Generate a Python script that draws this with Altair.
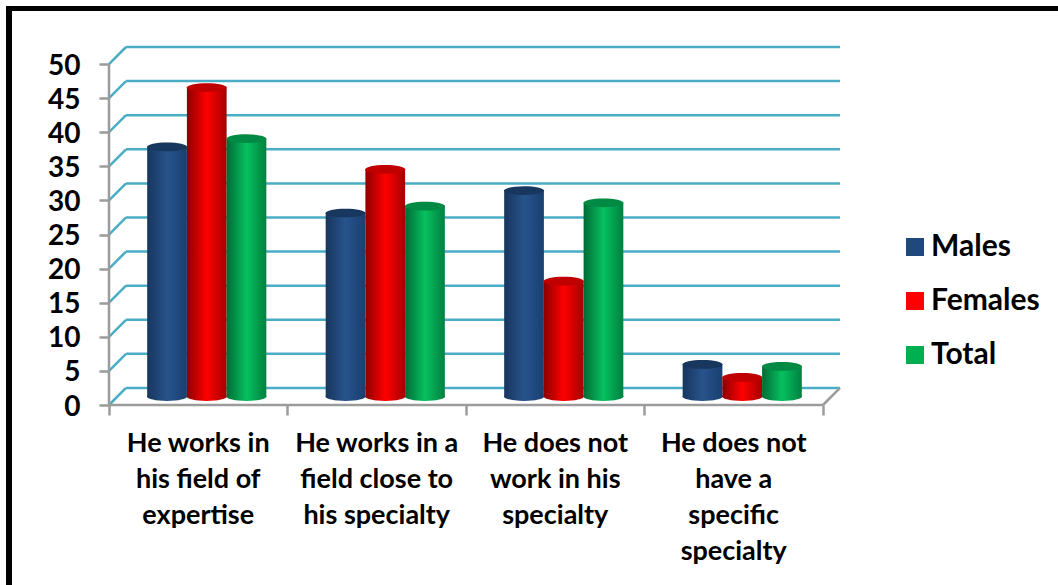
import altair as alt
import pandas as pd

categories = [
    "He works in\nhis field of\nexpertise",
    "He works in a\nfield close to\nhis specialty",
    "He does not\nwork in his\nspecialty",
    "He does not\nhave a\nspecific\nspecialty",
]
series = ["Males", "Females", "Total"]
males = [36.6, 26.9, 30.2, 4.7]
females = [45.3, 33.3, 16.9, 2.8]
total = [37.8, 27.9, 28.4, 4.4]
ticks = list(range(0, 55, 5))

FONT = "Lato"
GRID = "#4bacc6"
AXIS = "#9b9b9b"
INK = "#000000"

# Pseudo-3D geometry, in data units of the two scales
DEPTH_X = 0.0954
DEPTH_Y = 2.5
BAR_W = 0.2225
X_MAX = 4 + DEPTH_X
Y_MAX = 50 + DEPTH_Y

x_scale = alt.Scale(domain=[0, X_MAX], nice=False, zero=False)
y_scale = alt.Scale(domain=[0, Y_MAX], nice=False, zero=False)

# Both axes are shared by every layer; their domain lines would run over the depth,
# so separate rules draw those
x_axis = alt.Axis(
    values=[0, 1, 2, 3, 4], labels=False, title=None, grid=False, domain=False,
    ticks=True, tickColor=AXIS, tickWidth=2.5, tickSize=10,
)
y_axis = alt.Axis(
    values=ticks, title=None, grid=False, domain=False, tickColor=AXIS,
    tickWidth=2.5, tickSize=10, labelFont=FONT, labelFontSize=28,
    labelFontWeight="bold", labelColor=INK, labelPadding=19, labelOffset=2,
)


def xq(field):
    return alt.X(field, scale=x_scale, axis=x_axis, title=None)


def yq(field):
    return alt.Y(field, scale=y_scale, axis=y_axis, title=None)


edge_dark = ["#17365d", "#8c0000", "#006b35"]
centre = ["#27538c", "#ff0000", "#07c05f"]
edge_right = ["#1a3f70", "#a50000", "#008040"]
cap = ["#17375e", "#c00000", "#008a44"]
legend_colors = ["#1f497d", "#ff0000", "#00b050"]

rows = []
for s_i, (name, vals) in enumerate(zip(series, [males, females, total])):
    for c_i, v in enumerate(vals):
        cx = c_i + 0.5 + DEPTH_X / 2 + (s_i - 1) * BAR_W
        rows.append({
            "series": name, "value": v, "cx": cx,
            "x0": cx - BAR_W / 2, "x1": cx + BAR_W / 2,
            "base": DEPTH_Y / 2, "top": v + DEPTH_Y / 2,
        })
bars = pd.DataFrame(rows)

ticks_df = pd.DataFrame({"v": ticks, "back": [t + DEPTH_Y for t in ticks],
                         "xd": DEPTH_X, "xe": X_MAX})
diag = pd.concat([
    pd.DataFrame({"v": ticks, "px": 0.0, "py": ticks}),
    pd.DataFrame({"v": ticks, "px": DEPTH_X, "py": [t + DEPTH_Y for t in ticks]}),
])

back_grid = alt.Chart(ticks_df).mark_rule(color=GRID, strokeWidth=2.5).encode(
    x=xq("xd:Q"), x2="xe:Q", y=yq("back:Q"),
)
side_grid = alt.Chart(diag).mark_line(color=GRID, strokeWidth=2.5).encode(
    x=xq("px:Q"), y=yq("py:Q"), detail="v:N",
)

# Floor edge on the right
floor_edge = alt.Chart(pd.DataFrame({
    "px": [4.0, X_MAX], "py": [0.0, DEPTH_Y],
})).mark_line(color=AXIS, strokeWidth=2.5).encode(x=xq("px:Q"), y=yq("py:Q"))

y_line = alt.Chart(pd.DataFrame({"a": [0], "b": [50], "x": [0]})).mark_rule(
    color=AXIS, strokeWidth=2.5
).encode(x=xq("x:Q"), y=yq("a:Q"), y2="b:Q")
x_line = alt.Chart(pd.DataFrame({"a": [0.0], "b": [4.0], "y": [0]})).mark_rule(
    color=AXIS, strokeWidth=2.5
).encode(x=xq("a:Q"), x2="b:Q", y=yq("y:Q"))

ELLIPSE = "M-1,0 A1,0.22 0 1,0 1,0 A1,0.22 0 1,0 -1,0 Z"
ELLIPSE_SIZE = 1600


def shaded(i):
    return alt.Gradient(
        gradient="linear", x1=0, x2=1, y1=0, y2=0,
        stops=[
            alt.GradientStop(offset=0, color=edge_dark[i]),
            alt.GradientStop(offset=0.5, color=centre[i]),
            alt.GradientStop(offset=1, color=edge_right[i]),
        ],
    )


cylinders = []
for i, name in enumerate(series):
    part = bars[bars["series"] == name]
    bottom = alt.Chart(part).mark_point(
        shape=ELLIPSE, size=ELLIPSE_SIZE, filled=True, opacity=1, fill=shaded(i), strokeWidth=0
    ).encode(x=xq("cx:Q"), y=yq("base:Q"))
    body = alt.Chart(part).mark_rect(fill=shaded(i)).encode(
        x=xq("x0:Q"), x2="x1:Q", y=yq("base:Q"), y2="top:Q",
    )
    lid = alt.Chart(part).mark_point(
        shape=ELLIPSE, size=ELLIPSE_SIZE, filled=True, opacity=1, fill=cap[i], strokeWidth=0
    ).encode(x=xq("cx:Q"), y=yq("top:Q"))
    cylinders += [bottom, body, lid]

# Invisible layer whose only job is to produce the legend
legend_layer = alt.Chart(bars).mark_square(opacity=0).encode(
    x=xq("cx:Q"),
    y=yq("top:Q"),
    color=alt.Color("series:N", scale=alt.Scale(domain=series, range=legend_colors), legend=alt.Legend(
        title=None, orient="none", legendX=791, legendY=185, symbolType="square",
        symbolSize=324, symbolOpacity=1, symbolStrokeWidth=0, labelFont=FONT,
        labelFontSize=30, labelFontWeight="bold", labelColor=INK, rowPadding=24,
        labelOffset=1,
    )),
)

labels_df = pd.DataFrame({"label": categories, "px": [i + 0.5 for i in range(4)]})
labels = alt.Chart(labels_df).mark_text(
    font=FONT, fontSize=27, fontWeight="bold", color=INK, align="center",
    baseline="top", lineBreak="\n", lineHeight=36,
).encode(x=xq("px:Q"), y=alt.value(384), text="label:N")

# Frame around the whole figure, placed in pixels relative to the plot origin
frame_top = alt.Chart(pd.DataFrame({"n": [0]})).mark_rule(color="#000000", strokeWidth=5).encode(
    x=alt.value(-103), x2=alt.value(960), y=alt.value(-38.5)
)
frame_left = alt.Chart(pd.DataFrame({"n": [0]})).mark_rule(color="#000000", strokeWidth=6).encode(
    x=alt.value(-100), y=alt.value(-41), y2=alt.value(560)
)

chart = alt.layer(
    frame_top, frame_left, back_grid, side_grid, floor_edge, y_line, x_line,
    *cylinders, legend_layer, labels,
).properties(
    width=731, height=358,
    padding={"left": 109, "top": 47, "right": 218, "bottom": 180},
    autosize=alt.AutoSizeParams(type="none"),
    background="#ffffff",
).configure_view(stroke=None)

chart.save("out.html", embed_options={"renderer": "svg", "actions": False})
